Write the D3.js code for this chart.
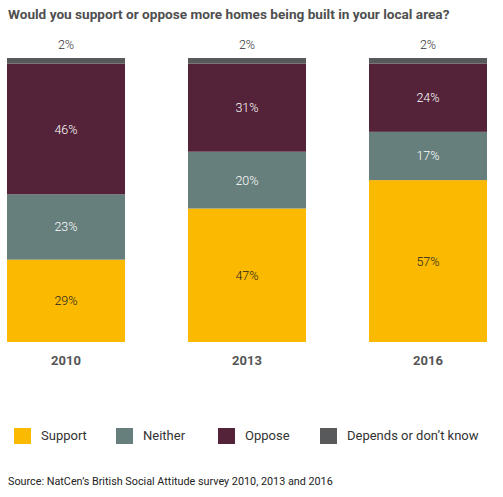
<!DOCTYPE html>
<html>
<head>
<meta charset="utf-8">
<script src="https://cdn.jsdelivr.net/npm/d3@7"></script>
<style>
  html, body { margin: 0; padding: 0; background: #fff; }
  svg { display: block; }
</style>
</head>
<body>
<div id="chart"></div>
<script>
const years = ["2010", "2013", "2016"];
const seriesKeys = ["Support", "Neither", "Oppose", "Depends or don’t know"];
const support = [29, 47, 57];
const neither = [23, 20, 17];
const oppose = [46, 31, 24];
const depends = [2, 2, 2];
const colors = ["#FBBA00", "#667E7C", "#54233A", "#58595B"];
const labelColors = ["#222222", "#ffffff", "#ffffff", "#333333"];
const title = "Would you support or oppose more homes being built in your local area?";
const source = "Source: NatCen’s British Social Attitude survey 2010, 2013 and 2016";

const W = 503, H = 497;
const rows = years.map((y, i) => ({
  year: y,
  "Support": support[i],
  "Neither": neither[i],
  "Oppose": oppose[i],
  "Depends or don’t know": depends[i]
}));

const svg = d3.select("#chart").append("svg").attr("width", W).attr("height", H);
const font = "'Roboto', 'Liberation Sans', sans-serif";

const titleText = svg.append("text")
  .attr("x", 8).attr("y", 19)
  .attr("font-family", "'Liberation Sans Narrow', 'Roboto', sans-serif")
  .attr("font-weight", "bold")
  .attr("font-size", 15.5)
  .attr("fill", "#4f4f4f")
  .text(title);
// fit the title to the reference width by scaling font size
const tw = titleText.node().getComputedTextLength();
if (tw > 0) titleText.attr("font-size", 15.5 * 442 / tw);

const x = d3.scaleBand().domain(years).range([7, 487]).paddingInner(0.348).paddingOuter(0);
const y = d3.scaleLinear().domain([0, 100]).range([342, 58]);

const stacked = d3.stack().keys(seriesKeys)(rows);

const layers = svg.selectAll("g.layer").data(stacked).join("g")
  .attr("class", "layer")
  .attr("fill", (d, i) => colors[i]);

layers.selectAll("rect").data(d => d).join("rect")
  .attr("x", d => x(d.data.year))
  .attr("width", x.bandwidth())
  .attr("y", d => y(d[1]))
  .attr("height", d => y(d[0]) - y(d[1]));

stacked.forEach((layer, li) => {
  const g = svg.append("g");
  g.selectAll("text").data(layer).join("text")
    .attr("x", d => x(d.data.year) + x.bandwidth() / 2)
    .attr("y", d => li === 3 ? y(d[1]) - 9 : (y(d[0]) + y(d[1])) / 2 + 4.5)
    .attr("text-anchor", "middle")
    .attr("font-family", font)
    .attr("font-weight", 300)
    .attr("font-size", 12.5)
    .attr("fill", labelColors[li])
    .text(d => (d[1] - d[0]) + "%");
});

const xAxis = d3.axisBottom(x).tickSize(0).tickPadding(0);
const axisG = svg.append("g").attr("transform", "translate(0,356)").call(xAxis);
axisG.select(".domain").remove();
axisG.selectAll("text")
  .attr("dy", "0.71em")
  .attr("font-family", font)
  .attr("font-weight", "bold")
  .attr("font-size", 13)
  .attr("fill", "#555555");

const legendX = [14, 116, 218, 320];
const lg = svg.append("g").selectAll("g").data(seriesKeys).join("g")
  .attr("transform", (d, i) => `translate(${legendX[i]},428)`);
lg.append("rect").attr("width", 17).attr("height", 16).attr("fill", (d, i) => colors[i]);
lg.append("text")
  .attr("x", 27).attr("y", 12)
  .attr("font-family", font)
  .attr("font-size", 13)
  .attr("fill", "#333333")
  .text(d => d);

svg.append("text")
  .attr("x", 8).attr("y", 485)
  .attr("font-family", font)
  .attr("font-size", 10.8)
  .attr("fill", "#222222")
  .text(source);
</script>
</body>
</html>
